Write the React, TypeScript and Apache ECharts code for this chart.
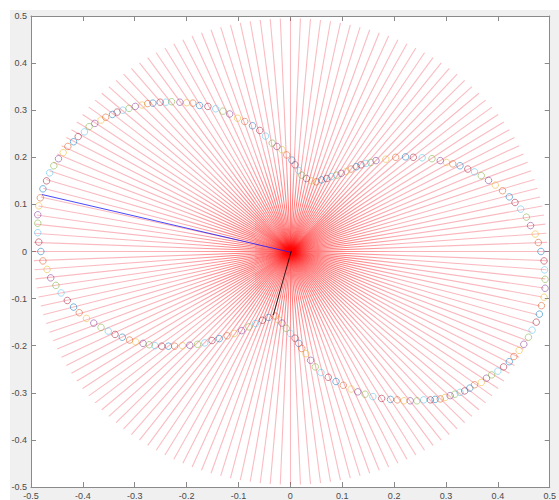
import React, { useEffect, useRef } from "react";
import * as echarts from "echarts";

// ---- data ----
const LINE_COUNT = 160; // red rays, evenly spread around the circle
const RAY_OUTER = 0.495;

const MARKER_X = [
  0.483, 0.478, 0.472, 0.463, 0.455, 0.444, 0.433, 0.422, 0.409, 0.395, 0.382, 0.368, 0.355, 0.342, 0.327,
  0.313, 0.301, 0.289, 0.273, 0.254, 0.237, 0.222, 0.203, 0.184, 0.165, 0.155, 0.146, 0.136, 0.127, 0.117,
  0.108, 0.098, 0.089, 0.079, 0.07, 0.06, 0.05, 0.041, 0.031, 0.022, 0.016, 0.009, 0.003, -0.007, -0.016,
  -0.026, -0.035, -0.048, -0.059, -0.073, -0.088, -0.102, -0.117, -0.13, -0.144, -0.159, -0.175, -0.188,
  -0.2, -0.213, -0.229, -0.24, -0.251, -0.265, -0.275, -0.286, -0.299, -0.311, -0.323, -0.334, -0.343,
  -0.356, -0.365, -0.377, -0.388, -0.397, -0.409, -0.418, -0.429, -0.438, -0.447, -0.456, -0.464, -0.47,
  -0.477, -0.482, -0.485, -0.487, -0.487, -0.487, -0.485, -0.481,
  -0.477, -0.469, -0.462, -0.452, -0.442, -0.43, -0.418, -0.407, -0.393, -0.379, -0.365, -0.351, -0.338,
  -0.324, -0.31, -0.298, -0.284, -0.272, -0.261, -0.248, -0.235, -0.223, -0.208, -0.194, -0.179, -0.165,
  -0.151, -0.137, -0.122, -0.108, -0.094, -0.08, -0.067, -0.054, -0.042, -0.029, -0.023, -0.016, -0.008,
  0.0, 0.009, 0.016, 0.022, 0.03, 0.039, 0.048, 0.059, 0.073, 0.088, 0.102, 0.117, 0.13, 0.144, 0.159,
  0.176, 0.193, 0.206, 0.219, 0.231, 0.244, 0.257, 0.27, 0.279, 0.289, 0.298, 0.308, 0.317, 0.327, 0.336,
  0.346, 0.355, 0.368, 0.378, 0.388, 0.4, 0.411, 0.422, 0.431, 0.441, 0.45, 0.459, 0.466, 0.474, 0.48,
  0.484, 0.489, 0.491, 0.491, 0.49, 0.489,
];
const MARKER_Y = [
  0.0, 0.019, 0.037, 0.055, 0.073, 0.09, 0.104, 0.116, 0.129, 0.141, 0.151, 0.161, 0.169, 0.175, 0.182,
  0.186, 0.189, 0.193, 0.197, 0.199, 0.2, 0.201, 0.2, 0.196, 0.193, 0.189, 0.187, 0.184, 0.18, 0.175,
  0.17, 0.166, 0.162, 0.159, 0.155, 0.152, 0.148, 0.15, 0.155, 0.162, 0.172, 0.184, 0.194, 0.205, 0.216,
  0.223, 0.23, 0.245, 0.257, 0.267, 0.276, 0.283, 0.292, 0.298, 0.303, 0.308, 0.31, 0.315,
  0.316, 0.317, 0.318, 0.317, 0.317, 0.315, 0.314, 0.311, 0.308, 0.304, 0.3, 0.296, 0.291,
  0.285, 0.279, 0.272, 0.265, 0.254, 0.244, 0.233, 0.223, 0.21, 0.197, 0.182, 0.167, 0.15,
  0.133, 0.114, 0.097, 0.078, 0.06, 0.04, 0.02, 0.0,
  -0.02, -0.038, -0.056, -0.072, -0.088, -0.104, -0.118, -0.13, -0.142, -0.152, -0.161, -0.169, -0.176,
  -0.182, -0.188, -0.192, -0.195, -0.198, -0.2, -0.201, -0.201, -0.201, -0.2, -0.199, -0.197, -0.194,
  -0.189, -0.185, -0.179, -0.174, -0.168, -0.16, -0.153, -0.146, -0.14, -0.137, -0.145, -0.152, -0.163,
  -0.174, -0.184, -0.195, -0.206, -0.217, -0.231, -0.245, -0.257, -0.267, -0.276, -0.284, -0.292, -0.298, -0.303, -0.308,
  -0.312, -0.314, -0.315, -0.317, -0.317, -0.317, -0.315, -0.315, -0.314, -0.313, -0.31, -0.306, -0.303, -0.299, -0.296,
  -0.29, -0.283, -0.278, -0.269, -0.262, -0.254, -0.245, -0.234, -0.223, -0.21, -0.197, -0.182, -0.167, -0.15, -0.133,
  -0.115, -0.097, -0.078, -0.059, -0.039, -0.02,
];
const BLUE_LINE = [
  [0.002, -0.002],
  [-0.479, 0.121],
];
const BLACK_LINE = [
  [0.002, 0.002],
  [-0.033, -0.135],
];
const MARKER_COLORS = ["#0072BD", "#D95319", "#EDB120", "#7E2F8E", "#77AC30", "#4DBEEE", "#A2142F"];

function buildRays() {
  const segs: number[][][] = [];
  for (let k = 0; k < LINE_COUNT; k++) {
    const t = (k * 2 * Math.PI) / LINE_COUNT;
    segs.push([
      [0, 0],
      [RAY_OUTER * Math.cos(t), RAY_OUTER * Math.sin(t)],
    ]);
  }
  return segs;
}

const RAY_COLOR = "rgba(236,30,50,0.58)";

export default function App() {
  const ref = useRef<HTMLDivElement>(null);
  useEffect(() => {
    if (!ref.current) return;
    const chart = echarts.init(ref.current, undefined, { renderer: "svg" });
    const fmt = (v: number) => String(Math.round(v * 10) / 10);
    const axisCommon = {
      type: "value",
      min: -0.5,
      max: 0.5,
      interval: 0.1,
      axisLine: { show: true, onZero: false, lineStyle: { color: "#8a8a8a", width: 1 } },
      axisTick: { show: true, inside: true, length: 5, lineStyle: { color: "#8a8a8a" } },
      splitLine: { show: false },
    };
    const labelStyle = {
      color: "#4a4a4a",
      fontSize: 9,
      fontFamily: "Liberation Sans, Arial, sans-serif",
      formatter: fmt,
    };
    const rays = buildRays();
    const raySeries = (data: any[]) => ({
      id: "rays",
      type: "lines",
      coordinateSystem: "cartesian2d",
      silent: true,
      z: 1,
      lineStyle: { color: RAY_COLOR, width: 1.1 },
      data,
    });
    chart.setOption({
      animation: false,
      backgroundColor: "#ffffff",
      graphic: [
        {
          type: "rect",
          shape: { x: 10, y: 10, width: 560, height: 500 },
          style: { fill: "#f0f0f0" },
          z: -10,
          silent: true,
        },
      ],
      grid: {
        left: 31,
        right: 3,
        top: 16,
        bottom: 13,
        show: true,
        backgroundColor: "#ffffff",
        borderWidth: 0,
      },
      xAxis: [
        { ...axisCommon, position: "bottom", axisLabel: { ...labelStyle, margin: 4 } },
        { ...axisCommon, position: "top", axisLabel: { show: false } },
      ],
      yAxis: [
        { ...axisCommon, position: "left", axisLabel: { ...labelStyle, margin: 4 } },
        { ...axisCommon, position: "right", axisLabel: { show: false } },
      ],
      series: [
        raySeries(rays.map((c) => ({ coords: c }))),
        {
          type: "scatter",
          z: 3,
          silent: true,
          symbol: "circle",
          symbolSize: 6.5,
          itemStyle: { color: "rgba(0,0,0,0)", borderWidth: 0.8, opacity: 0.65 },
          data: MARKER_X.map((x, i) => ({
            value: [x, MARKER_Y[i]],
            itemStyle: { borderColor: MARKER_COLORS[i % MARKER_COLORS.length] },
          })),
        },
        {
          type: "line",
          z: 4,
          silent: true,
          showSymbol: false,
          lineStyle: { color: "#1a1aff", width: 0.8 },
          data: BLUE_LINE,
        },
        {
          type: "line",
          z: 4,
          silent: true,
          showSymbol: false,
          lineStyle: { color: "#000000", width: 0.8 },
          data: BLACK_LINE,
        },
      ],
    });
    // shade each ray from saturated red at the hub to lighter red outside
    const shaded = rays.map((c) => {
      const p0 = chart.convertToPixel({ gridIndex: 0 }, c[0]) as number[];
      const p1 = chart.convertToPixel({ gridIndex: 0 }, c[1]) as number[];
      const grad = new echarts.graphic.LinearGradient(
        p0[0],
        p0[1],
        p1[0],
        p1[1],
        [
          { offset: 0, color: "rgba(255,0,0,1)" },
          { offset: 0.2, color: "rgba(255,0,0,1)" },
          { offset: 0.45, color: "rgba(240,28,48,0.68)" },
          { offset: 1, color: RAY_COLOR },
        ],
        true
      );
      return { coords: c, lineStyle: { color: grad } };
    });
    chart.setOption({ series: [raySeries(shaded)] });
    return () => chart.dispose();
  }, []);
  return (
    <div
      ref={ref}
      style={{ position: "absolute", left: 0, top: 0, width: 559, height: 500 }}
    />
  );
}
